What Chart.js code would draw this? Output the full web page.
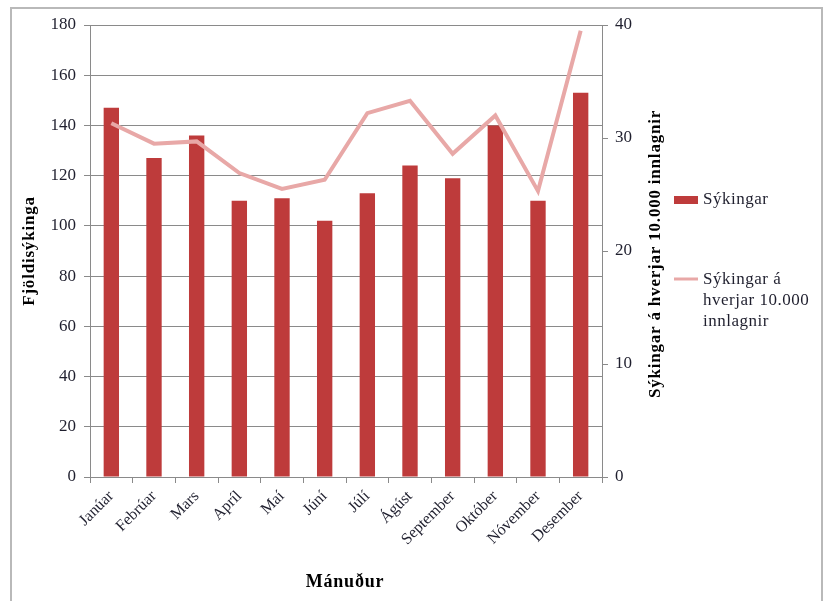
<!DOCTYPE html>
<html>
<head>
<meta charset="utf-8">
<script src="https://cdn.jsdelivr.net/npm/chart.js@4.4.1/dist/chart.umd.min.js"></script>
<style>
  html, body { margin: 0; padding: 0; background: #ffffff; }
  #wrap { width: 827px; height: 601px; position: relative; }
</style>
</head>
<body>
<div id="wrap"><canvas id="c" width="827" height="601"></canvas></div>
<script>
// Monthly infections and infections per 10,000 admissions
const months = ['Janúar', 'Febrúar', 'Mars', 'Apríl', 'Maí', 'Júní', 'Júlí', 'Ágúst', 'September', 'Október', 'Nóvember', 'Desember'];
const infections = [147, 127, 136, 110, 111, 102, 113, 124, 119, 140, 110, 153];
const infectionsPer10k = [31.3, 29.5, 29.7, 26.9, 25.5, 26.3, 32.2, 33.3, 28.6, 32.0, 25.3, 39.5];
const leftTicks = [0, 20, 40, 60, 80, 100, 120, 140, 160, 180];
const rightTicks = [0, 10, 20, 30, 40];

const seriesLabels = ['Sýkingar', 'Sýkingar á hverjar 10.000 innlagnir'];
const legendLines = [['Sýkingar'], ['Sýkingar á', 'hverjar 10.000', 'innlagnir']];
const titleLeft = 'Fjöldisýkinga';
const titleRight = 'Sýkingar á hverjar 10.000 innlagnir';
const titleX = 'Mánuður';

const BAR_COLOR = '#BE3B3B';
const LINE_COLOR = '#E8A8A7';
const GRID = '#8a8a8a';
const TEXT = '#1f1f2e';
const SERIF = '"Liberation Serif", "Times New Roman", serif';

const decorations = {
  id: 'decorations',
  beforeDraw(chart) {
    const ctx = chart.ctx;
    ctx.save();
    ctx.strokeStyle = '#b9b9b9';
    ctx.lineWidth = 2;
    ctx.strokeRect(11, 8, 811, 600);
    ctx.restore();
  },
  afterDraw(chart) {
    const ctx = chart.ctx;
    const a = chart.chartArea;
    const midY = (a.top + a.bottom) / 2;
    ctx.save();
    ctx.fillStyle = '#000';
    ctx.font = 'bold 17px ' + SERIF;
    ctx.textAlign = 'center';
    ctx.textBaseline = 'middle';
    ctx.letterSpacing = '0.8px';
    // left axis title
    ctx.save();
    ctx.translate(30, midY);
    ctx.rotate(-Math.PI / 2);
    ctx.fillText(titleLeft, 0, 0);
    ctx.restore();
    // right axis title
    ctx.save();
    ctx.translate(a.right + 54, midY + 3);
    ctx.rotate(-Math.PI / 2);
    ctx.fillText(titleRight, 0, 0);
    ctx.restore();
    // x axis title
    ctx.font = 'bold 18px ' + SERIF;
    ctx.fillText(titleX, 345, 582);

    // legend
    const lx = a.right + 72;
    ctx.font = '17px ' + SERIF;
    ctx.letterSpacing = '0.5px';
    ctx.textAlign = 'left';
    ctx.fillStyle = BAR_COLOR;
    ctx.fillRect(lx, 196, 24, 8);
    ctx.fillStyle = TEXT;
    legendLines[0].forEach((t, i) => ctx.fillText(t, lx + 29, 200 + i * 21));
    ctx.strokeStyle = LINE_COLOR;
    ctx.lineWidth = 3;
    ctx.beginPath();
    ctx.moveTo(lx, 279);
    ctx.lineTo(lx + 24, 279);
    ctx.stroke();
    legendLines[1].forEach((t, i) => ctx.fillText(t, lx + 29, 280 + i * 21));
    ctx.restore();
  }
};

new Chart(document.getElementById('c'), {
  data: {
    labels: months,
    datasets: [
      {
        type: 'line',
        label: seriesLabels[1],
        data: infectionsPer10k,
        yAxisID: 'y1',
        borderColor: LINE_COLOR,
        backgroundColor: LINE_COLOR,
        borderWidth: 4,
        pointRadius: 0,
        tension: 0,
        order: 0
      },
      {
        type: 'bar',
        label: seriesLabels[0],
        data: infections,
        yAxisID: 'y',
        backgroundColor: BAR_COLOR,
        borderWidth: 0,
        categoryPercentage: 1,
        barPercentage: 0.36,
        order: 1
      }
    ]
  },
  options: {
    responsive: false,
    animation: false,
    devicePixelRatio: 1,
    layout: { padding: { left: 0, right: 175, top: 25, bottom: 0 } },
    plugins: { legend: { display: false }, tooltip: { enabled: false } },
    scales: {
      x: {
        offset: true,
        grid: { display: true, drawOnChartArea: false, drawTicks: true, tickLength: 6, color: GRID, offset: true },
        border: { display: true, color: GRID, width: 1 },
        ticks: { color: TEXT, font: { family: SERIF, size: 16 }, minRotation: 45, maxRotation: 45, padding: 4, autoSkip: false },
        afterFit(s) { s.height = 124; }
      },
      y: {
        position: 'left',
        min: 0, max: 180,
        afterBuildTicks(s) { s.ticks = leftTicks.map(v => ({ value: v })); },
        grid: { color: GRID, lineWidth: 1, drawTicks: true, tickLength: 6 },
        border: { display: true, color: GRID, width: 1 },
        ticks: { color: TEXT, font: { family: SERIF, size: 17 }, padding: 8 },
        afterFit(s) { s.width = 90; }
      },
      y1: {
        position: 'right',
        min: 0, max: 40,
        afterBuildTicks(s) { s.ticks = rightTicks.map(v => ({ value: v })); },
        grid: { drawOnChartArea: false, drawTicks: true, tickLength: 6, color: GRID },
        border: { display: true, color: GRID, width: 1 },
        ticks: { color: TEXT, font: { family: SERIF, size: 17 }, padding: 7 },
        afterFit(s) { s.width = 50; }
      }
    }
  },
  plugins: [decorations]
});
</script>
</body>
</html>
